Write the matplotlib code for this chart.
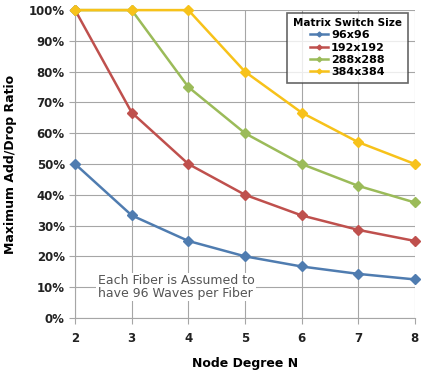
import numpy as np
import matplotlib
matplotlib.use("Agg")
import matplotlib.pyplot as plt
from matplotlib.ticker import FuncFormatter

node_degree = [2, 3, 4, 5, 6, 7, 8]
labels = ["96x96", "192x192", "288x288", "384x384"]
ratio_96 = [50, 33.3, 25, 20, 16.7, 14.3, 12.5]
ratio_192 = [100, 66.7, 50, 40, 33.3, 28.6, 25]
ratio_288 = [100, 100, 75, 60, 50, 42.9, 37.5]
ratio_384 = [100, 100, 100, 80, 66.7, 57.1, 50]
colors = ["#4f7cb0", "#bf504d", "#9bbb59", "#f7c21a"]

fig = plt.figure(figsize=(4.22, 3.74), dpi=100)
fig.patch.set_facecolor("white")
ax = fig.add_axes([0.178, 0.150, 0.805, 0.823])

for vals, lab, c in zip([ratio_96, ratio_192, ratio_288, ratio_384], labels, colors):
    ax.plot(node_degree, vals, color=c, lw=1.8, marker="D", ms=5,
            label=lab, clip_on=False, zorder=3)

ax.set_xlim(2, 8)
ax.set_ylim(0, 100)
ax.set_xticks(node_degree)
ax.set_yticks(np.arange(0, 101, 10))
ax.yaxis.set_major_formatter(FuncFormatter(lambda v, p: f"{v:.0f}%"))
ax.grid(True, color="#a6a6a6", lw=0.8)
ax.set_axisbelow(True)
for s in ["top", "right"]:
    ax.spines[s].set_visible(False)
ax.spines["left"].set_color("#a6a6a6")
ax.spines["bottom"].set_color("#a6a6a6")
ax.tick_params(axis="both", colors="#a6a6a6", labelcolor="#222222",
               labelsize=8.5, length=4)
for t in ax.get_xticklabels() + ax.get_yticklabels():
    t.set_fontweight("bold")
ax.tick_params(axis="x", pad=6)

ax.set_xlabel("Node Degree N", fontsize=9, fontweight="bold", labelpad=9)
ax.set_ylabel("Maximum Add/Drop Ratio", fontsize=9, fontweight="bold", labelpad=8)

ax.text(2.4, 10, "Each Fiber is Assumed to\nhave 96 Waves per Fiber",
        fontsize=9, color="#555555", ha="left", va="center", linespacing=1.0,
        bbox=dict(facecolor="white", edgecolor="none", pad=1), zorder=2)

leg = ax.legend(title="Matrix Switch Size", loc="upper right",
                bbox_to_anchor=(0.995, 1.01), fontsize=8, title_fontsize=7.5,
                frameon=True, fancybox=False, edgecolor="#404040",
                handlelength=1.6, markerscale=0.5, borderpad=0.5,
                labelspacing=0.2, handletextpad=0.3)
leg.get_title().set_fontweight("bold")
leg.get_frame().set_linewidth(1.2)
for t in leg.get_texts():
    t.set_fontweight("bold")

fig.savefig("out.png", dpi=100, facecolor="white")
